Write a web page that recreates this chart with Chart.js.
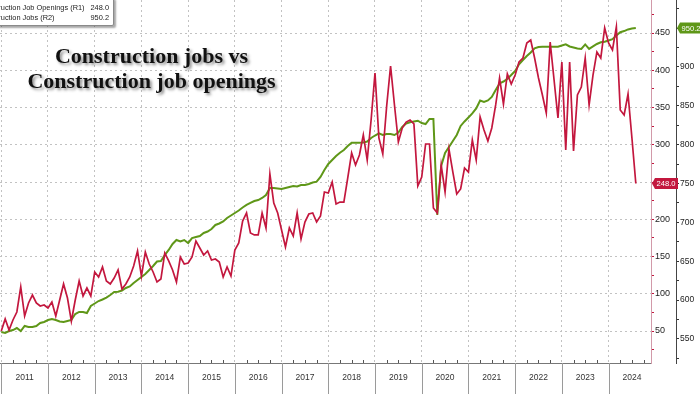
<!DOCTYPE html>
<html>
<head>
<meta charset="utf-8">
<script src="https://cdn.jsdelivr.net/npm/chart.js@4.4.1/dist/chart.umd.min.js"></script>
<style>
html,body{margin:0;padding:0;background:#fff;overflow:hidden}
#wrap{position:relative;width:700px;height:394px;overflow:hidden}
canvas{display:block}
#title{position:absolute;left:0;top:43px;width:303px;text-align:center;font:bold 22px/25px "Liberation Serif","Times New Roman",serif;color:#111;text-shadow:2px 2px 3px rgba(0,0,0,.45)}
#legend{position:absolute;left:-34px;top:-3px;width:146px;height:27px;background:#fff;border:1px solid #8a8a8a;border-radius:2px;box-shadow:2px 2px 2px rgba(0,0,0,.35);font:7.4px/10px "Liberation Sans",Arial,sans-serif;color:#222}
.row{position:absolute;left:12px;right:4px;height:10px;white-space:nowrap}
.row .v{position:absolute;right:0;top:0}
</style>
</head>
<body>
<div id="wrap">
<canvas id="c" width="700" height="394"></canvas>
<div id="legend">
  <div class="row" style="top:5px"><span id="l1">Construction Job Openings (R1)</span><span class="v" id="v1"></span></div>
  <div class="row" style="top:15px"><span id="l2">Construction Jobs (R2)</span><span class="v" id="v2"></span></div>
</div>
<div id="title">Construction jobs vs<br>Construction job openings</div>
</div>
<script>
// Monthly data, Jan 2011 .. Aug 2024
const years = ['2011','2012','2013','2014','2015','2016','2017','2018','2019','2020','2021','2022','2023','2024'];

const jobOpenings = [
  50.0, 66.1, 51.3, 64.8, 75.5, 109.1, 70.1, 87.6, 98.3, 87.6, 83.6, 84.9,
  80.9, 88.9, 70.1, 91.6, 113.1, 94.3, 63.4, 91.6, 117.1, 97.0, 107.7, 97.0,
  129.2, 122.5, 135.9, 117.1, 113.1, 121.1, 131.9, 106.4, 113.1, 122.5, 137.2, 157.4,
  123.8, 156.0, 139.9, 129.2, 115.8, 119.8, 154.7, 144.0, 131.9, 115.8, 149.3, 139.9,
  141.3, 149.3, 170.8, 161.4, 152.0, 157.4, 145.3, 146.6, 142.6, 122.5, 135.9, 123.8,
  158.7, 168.1, 197.6, 208.4, 181.5, 178.9, 178.9, 208.4, 188.3, 260.7, 221.8, 208.4,
  185.6, 162.7, 188.3, 177.5, 208.4, 173.5, 196.3, 207.0, 208.4, 196.3, 204.4, 236.6,
  235.2, 250.0, 220.5, 223.1, 223.1, 255.4, 288.9, 272.8, 286.2, 313.1, 279.5, 333.2,
  396.3, 309.1, 287.6, 352.0, 405.7, 353.4, 303.7, 322.5, 330.5, 333.2, 327.9, 244.6,
  256.7, 301.0, 301.0, 215.1, 208.4, 272.8, 236.6, 294.3, 263.4, 233.9, 240.6, 268.8,
  263.4, 306.4, 279.5, 337.2, 319.8, 305.0, 322.5, 353.4, 389.6, 354.7, 395.0, 381.5,
  393.6, 411.1, 416.4, 436.6, 440.6, 416.4, 389.6, 366.8, 342.6, 437.9, 386.9, 335.9,
  411.1, 293.0, 411.1, 291.6, 366.8, 377.5, 416.4, 353.4, 393.6, 424.5, 416.4, 456.7,
  436.6, 427.2, 458.1, 346.6, 339.9, 368.1, 309.1, 248.0
];

const constructionJobs = [
  558.9, 557.7, 560.2, 561.5, 564.1, 560.2, 566.7, 565.4, 565.4, 566.7, 570.5, 571.8,
  574.4, 575.7, 574.4, 572.5, 571.8, 573.1, 574.4, 582.1, 584.7, 584.7, 583.4, 592.4,
  595.6, 598.8, 600.8, 603.3, 606.6, 610.4, 610.8, 612.4, 615.6, 617.5, 622.0, 625.9,
  629.7, 633.6, 638.7, 643.9, 649.7, 650.3, 658.0, 664.5, 672.2, 677.3, 675.4, 677.3,
  673.5, 679.9, 681.2, 682.5, 686.4, 688.3, 691.5, 696.7, 698.6, 701.2, 705.7, 708.9,
  712.1, 715.3, 719.2, 722.4, 725.0, 727.5, 728.8, 731.4, 735.3, 744.3, 744.3, 743.6,
  743.0, 744.3, 745.6, 746.8, 746.2, 748.1, 748.1, 749.4, 751.4, 752.4, 758.4, 767.4,
  775.2, 780.3, 785.5, 789.7, 793.2, 798.3, 802.6, 802.6, 802.6, 802.8, 804.1, 808.6,
  811.8, 814.7, 812.5, 813.8, 813.8, 812.5, 815.7, 822.8, 827.3, 828.8, 829.9, 830.8,
  827.9, 826.6, 833.1, 833.1, 709.5, 772.6, 789.3, 797.0, 804.8, 812.5, 824.1, 829.9,
  835.0, 840.2, 846.6, 856.9, 855.0, 856.9, 861.4, 870.4, 878.8, 881.3, 884.6, 889.7,
  894.9, 903.5, 909.0, 914.2, 918.7, 924.1, 925.7, 926.1, 926.1, 926.1, 926.1, 926.1,
  927.7, 929.2, 926.4, 925.1, 923.8, 923.2, 929.0, 923.2, 926.4, 929.6, 931.8, 932.4,
  934.1, 935.8, 940.5, 944.8, 946.2, 948.3, 949.5, 950.2
];

const RED = '#c3173e';
const GREEN = '#5f9718';
const GRID = '#c2c2c2';

const lastR1 = jobOpenings[jobOpenings.length - 1];
const lastR2 = constructionJobs[constructionJobs.length - 1];
document.getElementById('v1').textContent = lastR1.toFixed(1);
document.getElementById('v2').textContent = lastR2.toFixed(1);

function zeroPad(scale){ scale.paddingTop = 0; scale.paddingBottom = 0; scale.paddingLeft = 0; scale.paddingRight = 0; }

const decor = {
  id: 'decor',
  afterDraw(chart) {
    const ctx = chart.ctx, xs = chart.scales.x, area = chart.chartArea;
    ctx.save();
    ctx.lineWidth = 1;
    for (const t of xs.ticks) {
      const px = Math.round(xs.getPixelForValue(t.value)) + 0.5;
      ctx.beginPath();
      if (t.value % 12 === 0) {
        ctx.strokeStyle = '#9a9a9a';
        ctx.moveTo(px, area.bottom);
        ctx.lineTo(px, chart.height);
      } else {
        ctx.strokeStyle = '#555';
        ctx.moveTo(px, area.bottom);
        ctx.lineTo(px, area.bottom - 3);
      }
      ctx.stroke();
    }
    function tag(x, y, text, bg) {
      ctx.font = '7.6px "Liberation Sans", Arial, sans-serif';
      const w = ctx.measureText(text).width + 3, h = 11;
      ctx.fillStyle = bg;
      ctx.beginPath();
      ctx.moveTo(x, y);
      ctx.lineTo(x + 3, y - h / 2);
      ctx.lineTo(x + 4 + w, y - h / 2);
      ctx.lineTo(x + 4 + w, y + h / 2);
      ctx.lineTo(x + 3, y + h / 2);
      ctx.closePath();
      ctx.fill();
      ctx.fillStyle = '#fff';
      ctx.textBaseline = 'middle';
      ctx.textAlign = 'left';
      ctx.fillText(text, x + 4.5, y + 0.5);
    }
    const y1 = chart.scales.y1, y2 = chart.scales.y2;
    tag(y1.left + 1, y1.getPixelForValue(lastR1), lastR1.toFixed(1), RED);
    tag(y2.left + 1, y2.getPixelForValue(lastR2), lastR2.toFixed(1), GREEN);
    ctx.restore();
  }
};

new Chart(document.getElementById('c'), {
  type: 'line',
  data: {
    datasets: [
      {
        label: 'Construction Job Openings (R1)',
        data: jobOpenings.map((v, i) => ({x: i, y: v})),
        yAxisID: 'y1',
        borderColor: RED,
        borderWidth: 1.7,
        pointRadius: 0,
        tension: 0
      },
      {
        label: 'Construction Jobs (R2)',
        data: constructionJobs.map((v, i) => ({x: i, y: v})),
        yAxisID: 'y2',
        borderColor: GREEN,
        borderWidth: 2,
        pointRadius: 0,
        tension: 0
      }
    ]
  },
  options: {
    responsive: false,
    animation: false,
    devicePixelRatio: 1,
    layout: {padding: 0},
    plugins: {legend: {display: false}, tooltip: {enabled: false}, title: {display: false}},
    scales: {
      x: {
        type: 'linear',
        position: 'bottom',
        min: -0.33,
        max: 166.9,
        afterBuildTicks(scale) {
          const t = [];
          for (let v = 0; v <= 166; v += 3) t.push({value: v});
          scale.ticks = t;
        },
        afterFit(scale) { scale.height = 31; zeroPad(scale); },
        grid: {
          color: (c) => (c.tick && c.tick.value % 12 === 0) ? GRID : 'rgba(0,0,0,0)',
          lineWidth: 1,
          drawTicks: false
        },
        border: {display: true, color: '#777', width: 1, dash: [2, 3]},
        ticks: {
          autoSkip: false,
          maxRotation: 0,
          minRotation: 0,
          padding: 10,
          color: '#333',
          font: {family: 'Liberation Sans', size: 8.5},
          callback: (v) => (v % 12 === 6) ? years[(v - 6) / 12] : ''
        }
      },
      y1: {
        type: 'linear',
        position: 'right',
        weight: 0,
        min: 7.05,
        max: 494.3,
        afterBuildTicks(scale) {
          const t = [];
          for (let v = 25; v <= 475; v += 25) t.push({value: v});
          scale.ticks = t;
        },
        afterFit(scale) { scale.width = 25; zeroPad(scale); },
        grid: {
          color: (c) => (c.tick && c.tick.value % 50 === 0) ? GRID : 'rgba(0,0,0,0)',
          tickColor: RED,
          tickLength: 3,
          lineWidth: 1
        },
        border: {display: true, color: '#d29aa9', width: 1, dash: [2, 3]},
        ticks: {
          autoSkip: false,
          padding: 1,
          color: '#222',
          font: {family: 'Liberation Sans', size: 9},
          callback: (v) => (v % 50 === 0) ? String(v) : ''
        }
      },
      y2: {
        type: 'linear',
        position: 'right',
        weight: 1,
        min: 519.05,
        max: 986.2,
        afterBuildTicks(scale) {
          const t = [];
          for (let v = 525; v <= 975; v += 25) t.push({value: v});
          scale.ticks = t;
        },
        afterFit(scale) { scale.width = 24; zeroPad(scale); },
        grid: {
          drawOnChartArea: false,
          tickColor: '#333',
          tickLength: 3
        },
        border: {display: true, color: '#444', width: 1},
        ticks: {
          autoSkip: false,
          padding: 1,
          color: '#222',
          font: {family: 'Liberation Sans', size: 8.5},
          callback: (v) => (v % 50 === 0) ? String(v) : ''
        }
      }
    }
  },
  plugins: [decor]
});
</script>
</body>
</html>
